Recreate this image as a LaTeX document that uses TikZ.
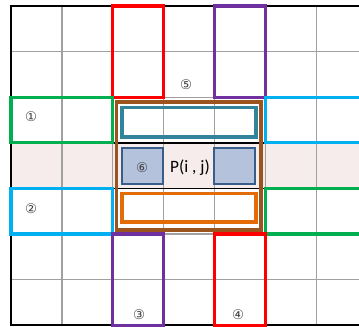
\documentclass[tikz,border=0pt]{standalone}
\usepackage{fontspec}
\setmainfont{Carlito}
\newfontfamily\circfont{DejaVu Sans}
\definecolor{gridgray}{HTML}{A0A0A0}
\definecolor{pinkbg}{HTML}{F6ECEB}
\definecolor{myred}{HTML}{FF0000}
\definecolor{mypurple}{HTML}{7030A0}
\definecolor{mygreen}{HTML}{00B050}
\definecolor{mycyan}{HTML}{00B0F0}
\definecolor{mybrown}{HTML}{9B541E}
\definecolor{myteal}{HTML}{31849B}
\definecolor{myorange}{HTML}{E36C09}
\definecolor{bluefill}{HTML}{B4C2DB}
\definecolor{blueline}{HTML}{385D8A}
\definecolor{lblgray}{HTML}{404040}
\begin{document}
\begin{tikzpicture}[x=0.75pt,y=-0.75pt,
  gridline/.style={draw=gridgray,line width=0.9pt},
  framebox/.style={line width=2.4pt},
  innerbox/.style={line width=2.4pt},
  bluebox/.style={fill=bluefill,draw=blueline,line width=1.4pt},
  circlbl/.style={font=\circfont\fontsize{10}{12}\selectfont,text=lblgray,inner sep=0pt},
  txtlbl/.style={font=\fontsize{13}{15}\selectfont,inner sep=0pt}]
\useasboundingbox (0,0) rectangle (359,327);
\fill[white] (0,0) rectangle (359,327);
% pink band
\fill[pinkbg] (11,142.9) rectangle (359,188.4);
% grid
\foreach \x in {61.9,112.7,163.6,214.5,265.4,316.3}
  \draw[gridline] (\x,6) -- (\x,325.3);
\foreach \y in {51.6,97.3,142.9,188.4,234,279.7}
  \draw[gridline] (11,\y) -- (359,\y);
\draw[black,line width=1pt] (112.7,142.9) -- (265.4,142.9);
\draw[black,line width=1pt] (112.7,188.4) -- (265.4,188.4);
% outer border
\draw[black,line width=1.5pt] (359,6) -- (11,6) -- (11,325.3) -- (359,325.3);
% coloured frames
\draw[framebox,myred] (112.7,6) rectangle (163.6,97.3);
\draw[framebox,mypurple] (214.5,6) rectangle (265.4,97.3);
\draw[framebox,mygreen] (11,97.3) rectangle (112.7,142.9);
\draw[framebox,mycyan] (265.4,97.3) rectangle (370,142.9);
\draw[framebox,mycyan] (11,188.4) rectangle (112.7,234);
\draw[framebox,mygreen] (265.4,188.4) rectangle (370,234);
\draw[framebox,mypurple] (112.7,234) rectangle (163.6,325.3);
\draw[framebox,myred] (214.5,234) rectangle (265.4,325.3);
% central frames
\draw[framebox,mybrown] (116.5,102) rectangle (261,230);
\draw[innerbox,myteal] (122,107.5) rectangle (256,137);
\draw[innerbox,myorange] (122,193.5) rectangle (256,222);
\draw[bluebox] (122,148) rectangle (163,184);
\draw[bluebox] (214,148) rectangle (255,184);
% labels
\node[circlbl] (l1) at (31,117) {①};
\node[circlbl] (l2) at (31,209) {②};
\node[circlbl] (l3) at (139,315) {③};
\node[circlbl] (l4) at (238,315) {④};
\node[circlbl] (l5) at (186,85) {⑤};
\node[circlbl] (l6) at (142,168) {⑥};
\node[txtlbl] (p) at (190,168) {P(i , j)};
\end{tikzpicture}
\end{document}
